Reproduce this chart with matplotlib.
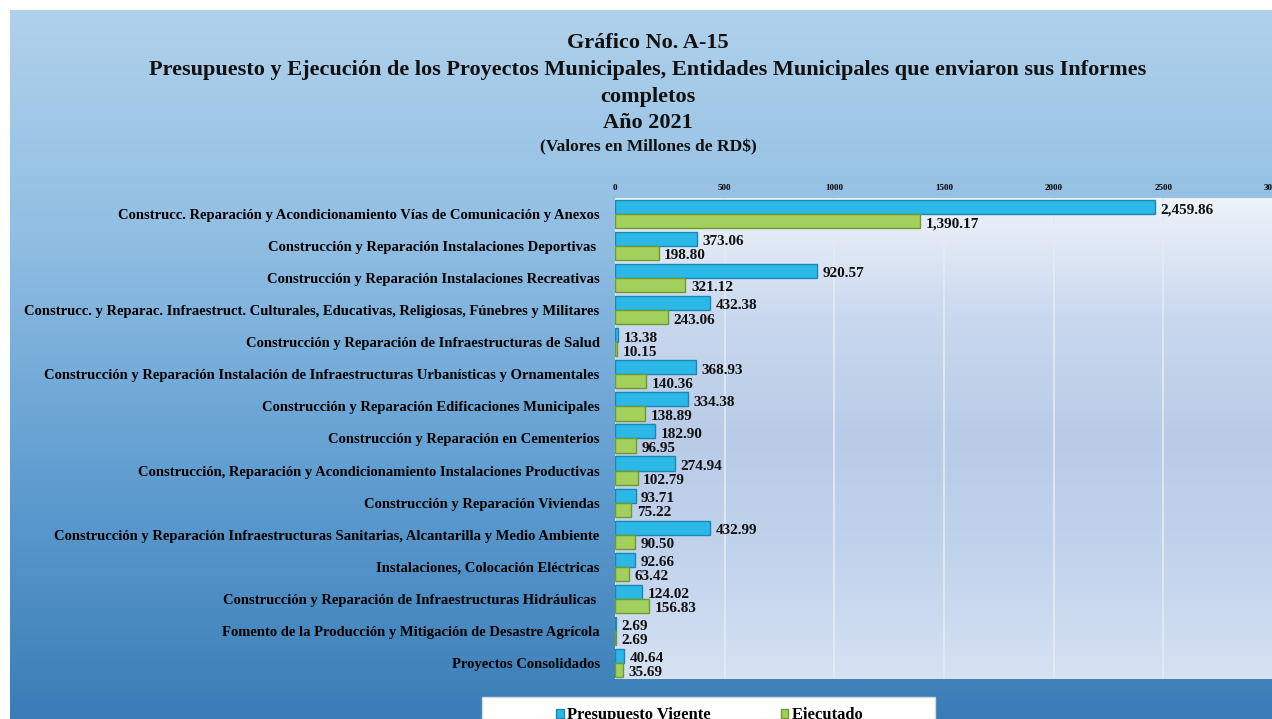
import numpy as np
import matplotlib.pyplot as plt
from matplotlib.colors import LinearSegmentedColormap
from matplotlib.patches import Rectangle

categorias = [
    "Construcc. Reparación y Acondicionamiento Vías de Comunicación y Anexos",
    "Construcción y Reparación Instalaciones Deportivas ",
    "Construcción y Reparación Instalaciones Recreativas",
    "Construcc. y Reparac. Infraestruct. Culturales, Educativas, Religiosas, Fúnebres y Militares",
    "Construcción y Reparación de Infraestructuras de Salud",
    "Construcción y Reparación Instalación de Infraestructuras Urbanísticas y Ornamentales",
    "Construcción y Reparación Edificaciones Municipales",
    "Construcción y Reparación en Cementerios",
    "Construcción, Reparación y Acondicionamiento Instalaciones Productivas",
    "Construcción y Reparación Viviendas",
    "Construcción y Reparación Infraestructuras Sanitarias, Alcantarilla y Medio Ambiente",
    "Instalaciones, Colocación Eléctricas",
    "Construcción y Reparación de Infraestructuras Hidráulicas ",
    "Fomento de la Producción y Mitigación de Desastre Agrícola",
    "Proyectos Consolidados",
]
presupuesto = [2459.86, 373.06, 920.57, 432.38, 13.38, 368.93, 334.38, 182.90,
               274.94, 93.71, 432.99, 92.66, 124.02, 2.69, 40.64]
ejecutado = [1390.17, 198.80, 321.12, 243.06, 10.15, 140.36, 138.89, 96.95,
             102.79, 75.22, 90.50, 63.42, 156.83, 2.69, 35.69]
ticks = [0, 500, 1000, 1500, 2000, 2500, 3000]

W, H = 1272, 719
serif = "Liberation Serif"
fig = plt.figure(figsize=(W / 100, H / 100), dpi=100, facecolor="white")

# fondo degradado
bg = fig.add_axes([10 / W, 0, 1 - 10 / W, 1 - 10 / H], zorder=-5)
cmap_bg = LinearSegmentedColormap.from_list("bg", ["#b0d1eb", "#8fbde2", "#5f9dd0", "#3a7db6"])
bg.imshow(np.linspace(0, 1, 256).reshape(-1, 1), aspect="auto", cmap=cmap_bg,
          extent=[0, 1, 0, 1], origin="upper")
bg.set_xlim(0, 1)
bg.set_ylim(0, 1)
bg.set_axis_off()

ax = fig.add_axes([615 / W, 1 - 679 / H, 658 / W, 481 / H])
ax.set_facecolor("none")
cmap_pa = LinearSegmentedColormap.from_list("pa", ["#eef3fa", "#c9d8ee", "#b9cbe7", "#c2d3ec", "#d6e2f2"])
ax.imshow(np.linspace(0, 1, 256).reshape(-1, 1), aspect="auto", cmap=cmap_pa,
          extent=[0, 3000, 14.5, -0.5], zorder=0)

y = np.arange(len(categorias))
h = 0.44
ax.barh(y - h / 2, presupuesto, height=h, color="#2cb8e6", edgecolor="#1b86b8",
        linewidth=1, zorder=3, label="Presupuesto Vigente")
ax.barh(y + h / 2, ejecutado, height=h, color="#a3cf5c", edgecolor="#6c9b33",
        linewidth=1, zorder=3, label="Ejecutado")

for i in range(len(categorias)):
    ax.annotate(f"{presupuesto[i]:,.2f}", (presupuesto[i], y[i] - h / 2), xytext=(4, -2),
                textcoords="offset points", va="center", ha="left", fontsize=11,
                fontweight="bold", family=serif, color="#111111", zorder=4)
    ax.annotate(f"{ejecutado[i]:,.2f}", (ejecutado[i], y[i] + h / 2), xytext=(4, -2),
                textcoords="offset points", va="center", ha="left", fontsize=11,
                fontweight="bold", family=serif, color="#111111", zorder=4)

ax.set_xlim(0, 3000)
ax.set_ylim(14.5, -0.5)
ax.set_xticks(ticks)
ax.xaxis.tick_top()
ax.tick_params(axis="x", length=0, pad=4, labelsize=6.5)
for t in ax.get_xticklabels():
    t.set_family(serif)
    t.set_fontweight("bold")
ax.set_yticks(y)
ax.set_yticklabels(categorias)
ax.tick_params(axis="y", length=0, pad=11, labelsize=10.5)
for t in ax.get_yticklabels():
    t.set_family(serif)
    t.set_fontweight("bold")
ax.grid(axis="x", color="#e4ebf4", linewidth=1.2, zorder=1)
for s in ax.spines.values():
    s.set_visible(False)

titulos = [
    ("Gráfico No. A-15", 43, 16),
    ("Presupuesto y Ejecución de los Proyectos Municipales, Entidades Municipales que enviaron sus Informes", 70, 16),
    ("completos", 97, 16),
    ("Año 2021", 123, 16),
    ("(Valores en Millones de RD$)", 147, 12.5),
]
for txt, py, fs in titulos:
    fig.text(648 / W, 1 - py / H, txt, ha="center", va="center", fontsize=fs,
             fontweight="bold", family=serif, color="#111111")

# recuadro de la leyenda
fig.patches.append(Rectangle((482 / W, 0), 453 / W, 1 - 697 / H, transform=fig.transFigure,
                             facecolor="white", edgecolor="#d0d8e0", linewidth=1, zorder=2))
leg = fig.legend(loc="upper center", bbox_to_anchor=(710 / W, 1 - 697 / H),
                 ncol=2, frameon=False, borderaxespad=0,
                 handlelength=0.45, handleheight=0.45, handletextpad=0.2,
                 columnspacing=4.2, borderpad=0.6,
                 prop={"family": serif, "weight": "bold", "size": 12})
leg.set_zorder(3)

fig.savefig("out.png", dpi=100)
